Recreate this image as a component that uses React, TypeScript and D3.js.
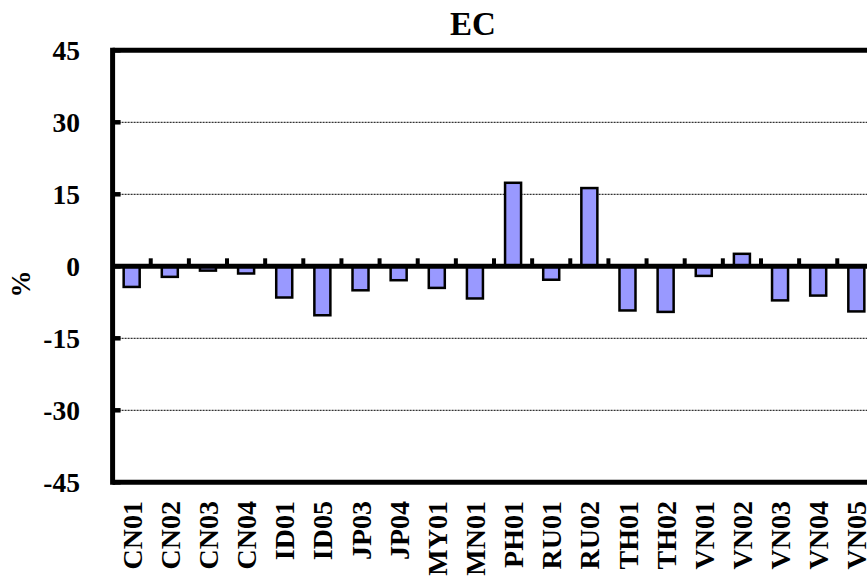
import React from "react";
import * as d3 from "d3";

const categories = ["CN01","CN02","CN03","CN04","ID01","ID05","JP03","JP04","MY01","MN01","PH01","RU01","RU02","TH01","TH02","VN01","VN02","VN03","VN04","VN05"];
const values = [-4.3,-2.2,-0.9,-1.5,-6.5,-10.2,-5.0,-2.9,-4.5,-6.7,17.4,-2.8,16.3,-9.2,-9.5,-2.0,2.6,-7.1,-6.1,-9.4];
const yTicks = [-45,-30,-15,0,15,30,45];
const title = "EC";
const yLabel = "%";

const W = 867, H = 577;
const left = 112.6, top = 50.3, bottom = 482.3;
const step = 38.14;
const FONT = "'Liberation Serif', 'Times New Roman', serif";

export default function App() {
  const n = categories.length;
  const x = d3.scaleBand<string>().domain(categories).range([left, left + n * step]).paddingInner(0).paddingOuter(0);
  const y = d3.scaleLinear().domain([-45, 45]).range([bottom, top]);
  const right = left + n * step;
  const bw = x.bandwidth() * 0.42;
  const y0 = y(0);
  return (
    <svg width={W} height={H} style={{ position: "absolute", left: 0, top: 0, background: "#fff" }} fontFamily={FONT}>
      <rect x={0} y={0} width={W} height={H} fill="#fff" />
      {yTicks.filter(t => t !== 0 && t !== 45 && t !== -45).map(t => (
        <line key={"g" + t} x1={left} x2={right} y1={y(t)} y2={y(t)} stroke="#000" strokeWidth={1} strokeDasharray="2 1" />
      ))}
      {categories.map((c, i) => {
        const v = values[i];
        const cx = (x(c) as number) + x.bandwidth() / 2;
        return (
          <rect key={c} x={cx - bw / 2} width={bw} y={Math.min(y(v), y0)} height={Math.abs(y(v) - y0)}
            fill="#9999FF" stroke="#000" strokeWidth={2.5} />
        );
      })}
      <line x1={left} x2={right} y1={y0} y2={y0} stroke="#000" strokeWidth={5} />
      {categories.slice(1).map(c => (
        <line key={"t" + c} x1={x(c) as number} x2={x(c) as number} y1={y0} y2={y0 - 8} stroke="#000" strokeWidth={4} />
      ))}
      {yTicks.map(t => (
        <line key={"yt" + t} x1={left} x2={left + 8} y1={y(t)} y2={y(t)} stroke="#000" strokeWidth={4.5} />
      ))}
      <line x1={left} x2={right + 10} y1={top} y2={top} stroke="#000" strokeWidth={5} />
      <line x1={left} x2={right + 10} y1={bottom} y2={bottom} stroke="#000" strokeWidth={5} />
      <line x1={left} x2={left} y1={top - 2.5} y2={bottom + 2.5} stroke="#000" strokeWidth={5} />
      {yTicks.map(t => (
        <text key={"yl" + t} x={80} y={y(t)} dy="0.35em" textAnchor="end" fontSize={27.5} fontWeight="bold">{t}</text>
      ))}
      {categories.map(c => {
        const cx = (x(c) as number) + x.bandwidth() / 2;
        return (
          <text key={"cl" + c} transform={`translate(${cx},${501}) rotate(-90)`} dy="0.36em" textAnchor="end" fontSize={28} fontWeight="bold">{c}</text>
        );
      })}
      <text x={473} y={35} textAnchor="middle" fontSize={33} fontWeight="bold">{title}</text>
      <text transform={`translate(21,284) rotate(-90)`} dy="0.35em" textAnchor="middle" fontSize={27} fontWeight="bold">{yLabel}</text>
    </svg>
  );
}
